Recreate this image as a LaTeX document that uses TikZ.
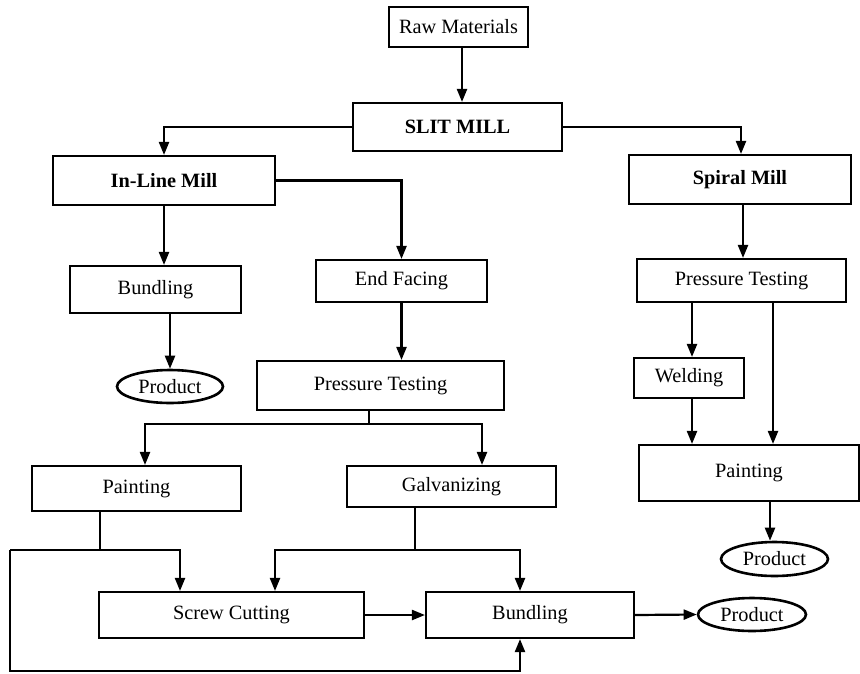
\documentclass[tikz,border=0pt]{standalone}
\usepackage{fontspec}
\setmainfont{Liberation Serif}
\usetikzlibrary{arrows.meta,shapes.geometric}
\tikzset{
  box/.style={draw, line width=2.1pt, inner sep=0pt, align=center},
  prod/.style={draw, ellipse, line width=2.6pt, inner sep=0pt},
  arr/.style={line width=2.2pt, -{Triangle[length=13pt,width=10pt]}},
  ln/.style={line width=2.2pt},
}
\begin{document}
\begin{tikzpicture}[x=1pt,y=-1pt, font=\fontsize{20.3}{24}\selectfont]
\useasboundingbox (0,0) rectangle (860,673);
% nodes
\node[box, minimum width=139, minimum height=40] (raw) at (458.5,27) {Raw Materials};
\node[box, minimum width=209, minimum height=48, font=\fontsize{20.3}{24}\selectfont\bfseries] (slit) at (457.5,127) {SLIT MILL};
\node[box, minimum width=222, minimum height=49, font=\fontsize{20.3}{24}\selectfont\bfseries] (inline) at (164,180.5) {In-Line Mill};
\node[box, minimum width=222, minimum height=49, font=\fontsize{20.3}{24}\selectfont\bfseries] (spiral) at (740,179.5) {Spiral Mill};
\node[box, minimum width=171, minimum height=47] (bund1) at (155.5,289.5) {Bundling};
\node[box, minimum width=171, minimum height=42] (endf) at (401.5,281) {End Facing};
\node[box, minimum width=209, minimum height=43] (ptR) at (741.5,280.5) {Pressure Testing};
\node[prod, minimum width=106, minimum height=33] (prod1) at (170,386.5) {Product};
\node[box, minimum width=247, minimum height=49] (ptM) at (380.5,385.5) {Pressure Testing};
\node[box, minimum width=110, minimum height=40] (weld) at (689,378) {Welding};
\node[box, minimum width=220, minimum height=56] (paintR) at (749,473) {Painting};
\node[box, minimum width=209, minimum height=45] (paintL) at (136.5,488.5) {Painting};
\node[box, minimum width=209, minimum height=41] (galv) at (451.5,486.5) {Galvanizing};
\node[prod, minimum width=107, minimum height=34] (prod2) at (774.5,559) {Product};
\node[box, minimum width=265, minimum height=46] (screw) at (231.5,615) {Screw Cutting};
\node[box, minimum width=208, minimum height=46] (bund2) at (530,615) {Bundling};
\node[prod, minimum width=108, minimum height=33] (prod3) at (752,614.5) {Product};
% junctions
\coordinate (j1) at (369,424);
\coordinate (j2) at (100,550);
\coordinate (j3) at (10,550);
\coordinate (j4) at (10,671);
\coordinate (j5) at (415,550);
% connectors
\draw[arr] ([xshift=3.5pt]raw.south) -- ([xshift=3.5pt]raw.south |- slit.north);
\draw[arr] (slit.west) -| (inline.north);
\draw[arr] (slit.east) -| ([xshift=1pt]spiral.north);
\draw[arr] (inline.east) -| (endf.north);
\draw[arr] (inline.south) -- (inline.south |- bund1.north);
\draw[arr] ([xshift=3pt]spiral.south) -- ([xshift=3pt]spiral.south |- ptR.north);
\draw[arr] (prod1.north |- bund1.south) -- (prod1.north);
\draw[arr] (endf.south) -- (endf.south |- ptM.north);
\draw[ln] (j1 |- ptM.south) -- (j1);
\draw[arr] (j1) -| ([xshift=8.5pt]paintL.north);
\draw[arr] (j1) -| ([xshift=30.5pt]galv.north);
\draw[ln] ([xshift=-36.5pt]paintL.south) -- (j2);
\draw[arr] (j3) -| ([xshift=-51.5pt]screw.north);
\draw[arr] (j3) -- (j4) -| ([xshift=-10pt]bund2.south);
\draw[ln] ([xshift=-36.5pt]galv.south) -- (j5);
\draw[arr] (j5) -| ([xshift=43.5pt]screw.north);
\draw[arr] (j5) -| ([xshift=-10pt]bund2.north);
\draw[arr] (screw.east) -- (bund2.west);
\draw[arr] (bund2.east) -- (prod3.west);
\draw[arr] ([xshift=-49.5pt]ptR.south) -- ([xshift=-49.5pt]ptR.south |- weld.north);
\draw[arr] ([xshift=3pt]weld.south) -- ([xshift=3pt]weld.south |- paintR.north);
\draw[arr] ([xshift=31.5pt]ptR.south) -- ([xshift=31.5pt]ptR.south |- paintR.north);
\draw[arr] ([xshift=21pt]paintR.south) -- ([xshift=21pt]paintR.south |- prod2.north);
\end{tikzpicture}
\end{document}
